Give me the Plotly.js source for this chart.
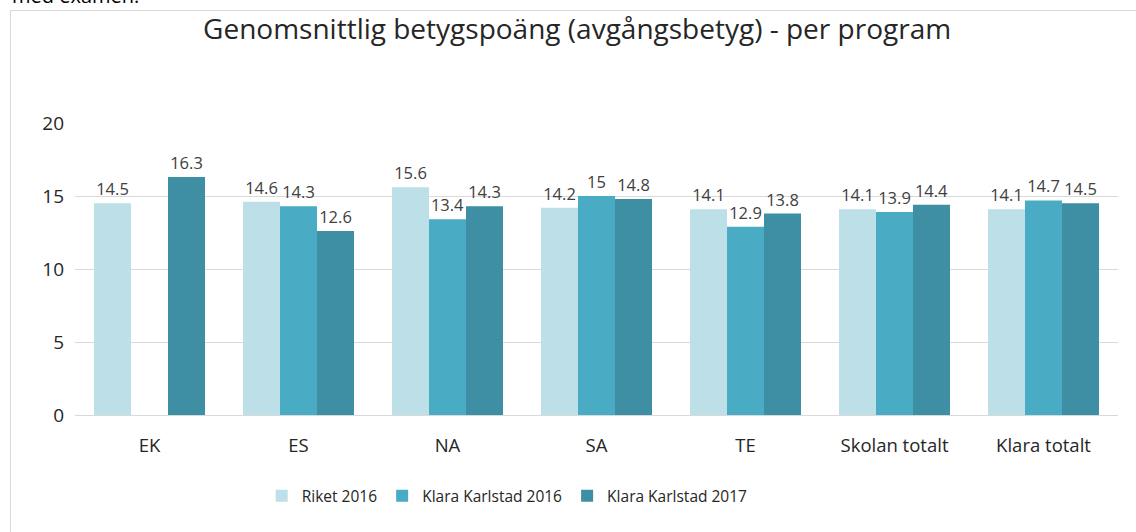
<!DOCTYPE html>
<html><head><meta charset="utf-8">
<script src="https://cdn.plot.ly/plotly-3.0.1.min.js"></script>
<style>
html,body{margin:0;padding:0;background:#fff;overflow:hidden;}
#frame{position:absolute;left:10px;top:10px;width:1140px;height:540px;border:1px solid #d9d9d9;}
#chart{position:absolute;left:0;top:0;width:1136px;height:532px;}
</style></head>
<body>
<div id="frame"></div>
<div id="chart"></div>
<script>
const categories = ["EK", "ES", "NA", "SA", "TE", "Skolan totalt", "Klara totalt"];
const riket2016 = [14.5, 14.6, 15.6, 14.2, 14.1, 14.1, 14.1];
const klara2016 = [null, 14.3, 13.4, 15, 12.9, 13.9, 14.7];
const klara2017 = [16.3, 12.6, 14.3, 14.8, 13.8, 14.4, 14.5];
const seriesNames = ["Riket 2016", "Klara Karlstad 2016", "Klara Karlstad 2017"];
const colors = ["#bddfe8", "#4aabc5", "#3e8ea4"];
const yTicks = [0, 5, 10, 15, 20];

const font = "Open Sans, Noto Sans, sans-serif";
const series = [riket2016, klara2016, klara2017];
const traces = series.map((vals, i) => ({
  type: "bar",
  name: seriesNames[i],
  x: categories,
  y: vals,
  marker: {color: colors[i]},
  text: vals.map(v => v == null ? "" : String(v)),
  textposition: "outside",
  constraintext: "none",
  cliponaxis: false,
  textfont: {family: font, size: 16.5, color: "#404040"},
  hoverinfo: "x+y+name"
}));

const layout = {
  width: 1136, height: 532,
  margin: {l: 75, r: 18, t: 123, b: 117},
  paper_bgcolor: "rgba(0,0,0,0)",
  plot_bgcolor: "rgba(0,0,0,0)",
  barmode: "group",
  bargap: 0.255,
  bargroupgap: 0,
  font: {family: font, color: "#404040"},
  title: {
    text: "Genomsnittlig betygspoäng (avgångsbetyg) - per program",
    font: {family: font, size: 28, color: "#262626"},
    x: 0.508, xref: "container", xanchor: "center",
    y: 0.945, yref: "container", yanchor: "middle"
  },
  xaxis: {
    type: "category",
    showgrid: false, zeroline: false, showline: false,
    ticks: "",
    ticklabelstandoff: 17,
    tickfont: {family: font, size: 18.5, color: "#262626"}
  },
  yaxis: {
    range: [0, 20],
    tickvals: yTicks,
    ticktext: yTicks.map(String),
    showgrid: true, gridcolor: "#d9d9d9", gridwidth: 1,
    zeroline: true, zerolinecolor: "#d9d9d9", zerolinewidth: 1,
    showline: false, ticks: "",
    ticklabelstandoff: 10,
    tickfont: {family: font, size: 19, color: "#262626"}
  },
  legend: {
    orientation: "h",
    x: 0.179, xanchor: "left",
    y: -0.22, yanchor: "top",
    font: {family: font, size: 15.5, color: "#262626"},
    itemclick: false,
    tracegroupgap: 0
  },
  showlegend: true,
  annotations: [{
    text: "med examen.",
    xref: "paper", yref: "paper",
    x: -0.062, xanchor: "left",
    y: 1.385, yanchor: "bottom",
    showarrow: false,
    font: {family: font, size: 20, color: "#000"}
  }]
};

Plotly.newPlot("chart", traces, layout, {displayModeBar: false, staticPlot: true});
</script>
</body></html>
